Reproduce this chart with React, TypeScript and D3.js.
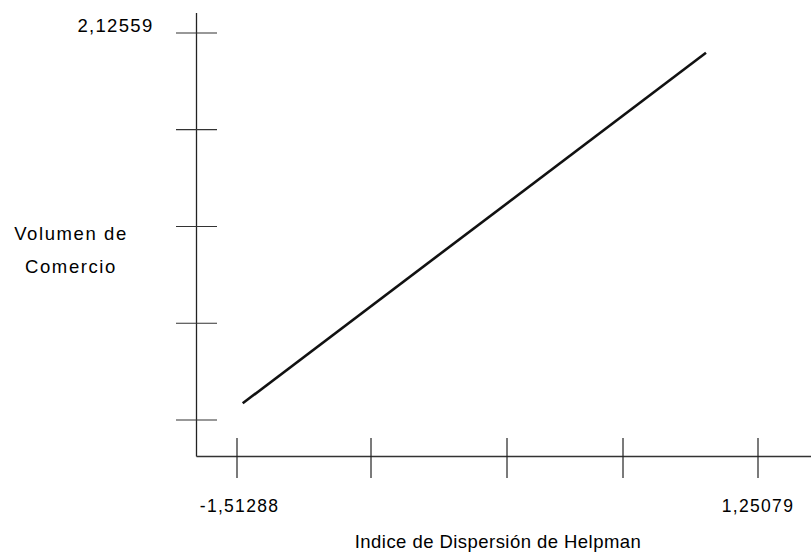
import * as d3 from "d3"

// Tick values (only the ends are labelled)
const xTicks = [-1.51288, -0.80205, -0.08063, 0.53469, 1.25079]
const xTickLabels = ["-1,51288", "", "", "", "1,25079"]
const yTicks = [-1.55, -0.631, 0.288, 1.207, 2.12559]
const yTickLabels = ["", "", "", "", "2,12559"]

// Fitted line, two end points
const lineX = [-1.4826, 0.9749]
const lineY = [-1.3914, 1.9385]

const yTitle = ["Volumen de", "Comercio"]
const xTitle = "Indice de Dispersión de Helpman"

const width = 811
const height = 554
const axisX = 196.5
const axisY = 456.5
const font = "'Liberation Sans', Arial, sans-serif"

export default function App() {
  const x = d3.scaleLinear().domain([xTicks[0], xTicks[xTicks.length - 1]]).range([237, 758])
  const y = d3.scaleLinear().domain([yTicks[0], yTicks[yTicks.length - 1]]).range([420, 33])

  const line = d3
    .line<number>()
    .x((d) => x(lineX[d]))
    .y((d) => y(lineY[d]))

  return (
    <svg
      width={width}
      height={height}
      style={{ position: "absolute", left: 0, top: 0, background: "#fff" }}
    >
      {/* axes */}
      <line x1={axisX} y1={13} x2={axisX} y2={axisY} stroke="#222" strokeWidth={1.3} />
      <line x1={axisX} y1={axisY} x2={width} y2={axisY} stroke="#333" strokeWidth={1.3} />

      {/* y ticks */}
      {yTicks.map((t, i) => (
        <g key={"y" + i}>
          <line x1={176} x2={217} y1={y(t)} y2={y(t)} stroke="#333" strokeWidth={1.2} />
          {yTickLabels[i] && (
            <text
              x={115.5}
              y={y(t) - 1}
              textAnchor="middle"
              fontFamily={font}
              fontSize={18.5}
              letterSpacing={1.3}
              fill="#000"
            >
              {yTickLabels[i]}
            </text>
          )}
        </g>
      ))}

      {/* x ticks */}
      {xTicks.map((t, i) => (
        <g key={"x" + i}>
          <line x1={x(t)} x2={x(t)} y1={438} y2={478} stroke="#222" strokeWidth={1.2} />
          {xTickLabels[i] && (
            <text
              x={x(t) + (i === 0 ? 2.5 : 0)}
              y={511.5}
              textAnchor="middle"
              fontFamily={font}
              fontSize={17.5}
              letterSpacing={1.3}
              fill="#000"
            >
              {xTickLabels[i]}
            </text>
          )}
        </g>
      ))}

      {/* fitted line */}
      <path d={line([0, 1]) || ""} fill="none" stroke="#111" strokeWidth={2.6} />

      {/* axis titles */}
      {yTitle.map((s, i) => (
        <text
          key={s}
          x={71}
          y={239.5 + i * 33}
          textAnchor="middle"
          fontFamily={font}
          fontSize={18.5}
          letterSpacing={1.6}
          fill="#000"
        >
          {s}
        </text>
      ))}
      <text
        x={498}
        y={548}
        textAnchor="middle"
        fontFamily={font}
        fontSize={18.5}
        letterSpacing={0.45}
        fill="#000"
      >
        {xTitle}
      </text>
    </svg>
  )
}
